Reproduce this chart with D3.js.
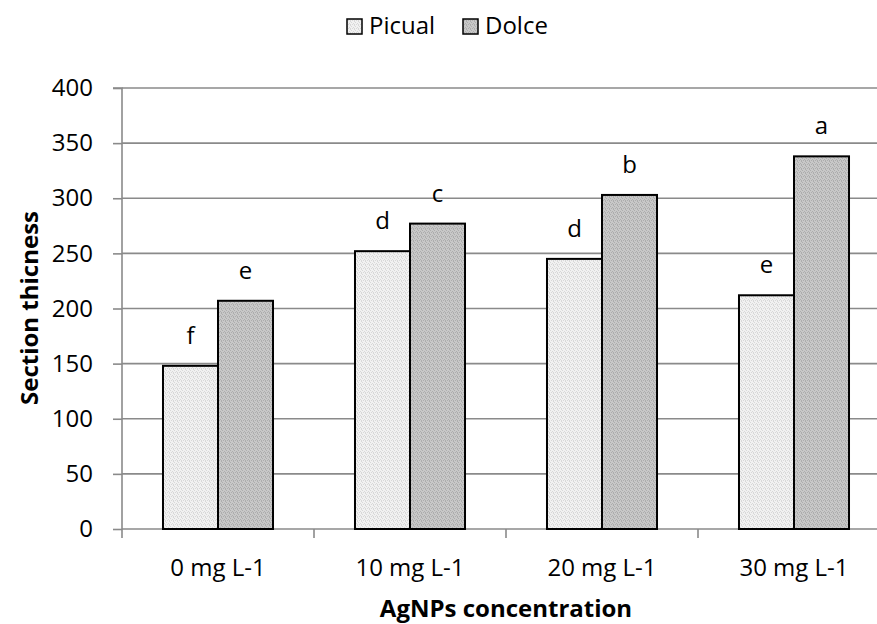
<!DOCTYPE html>
<html><head><meta charset="utf-8">
<script src="https://cdn.jsdelivr.net/npm/d3@7"></script>
<style>body{margin:0;background:#fff}svg{display:block}text{font-family:"Open Sans",sans-serif;fill:#000}</style>
</head><body><svg id="c" width="877" height="624"></svg>
<script>
const categories = ["0 mg L-1","10 mg L-1","20 mg L-1","30 mg L-1"];
const series = ["Picual","Dolce"];
const picual = [148, 252, 245, 212];
const dolce = [207, 277, 303, 338];
const picualLetters = ["f","d","d","e"];
const dolceLetters = ["e","c","b","a"];
const yTicks = [0,50,100,150,200,250,300,350,400];

const svg = d3.select("#c");
const defs = svg.append("defs");
const dotCells = [[0,0],[2,1],[1,3],[3,2],[2,0]];
function pat(id, bg, dot){
  const p = defs.append("pattern").attr("id",id).attr("width",4).attr("height",4).attr("patternUnits","userSpaceOnUse");
  p.append("rect").attr("width",4).attr("height",4).attr("fill",bg);
  dotCells.forEach(([a,b])=>p.append("rect").attr("x",a).attr("y",b).attr("width",1).attr("height",1).attr("fill",dot));
}
pat("pPic","#f1f1f1","#d8d8d8");
pat("pDol","#c8c8c8","#adadad");
const fills = {Picual:"url(#pPic)", Dolce:"url(#pDol)"};

const L=122, R=890, T=88, B=529;
const y = d3.scaleLinear().domain([0,400]).range([B,T]);
const p = 0.427;
const x = d3.scaleBand().domain(categories).range([L,R]).paddingInner(p).paddingOuter(p/2);
const xs = d3.scaleBand().domain(series).range([0,x.bandwidth()]);

// gridlines
svg.append("g").selectAll("line").data(yTicks.filter(d=>d>0)).join("line")
  .attr("x1",L).attr("x2",877).attr("y1",d=>y(d)).attr("y2",d=>y(d))
  .attr("stroke","#8a8a8a").attr("stroke-width",1.6);

// y axis
const ya = svg.append("g").attr("transform",`translate(${L},0)`)
  .call(d3.axisLeft(y).tickValues(yTicks).tickSize(9).tickPadding(20));
ya.select(".domain").attr("stroke","#8a8a8a").attr("stroke-width",1.6).attr("d",`M-9,${T}H0V${B}`);
ya.selectAll(".tick line").attr("stroke","#8a8a8a").attr("stroke-width",1.6);
ya.selectAll(".tick text").attr("font-size",24).attr("font-family","Open Sans").attr("fill","#000");

// x axis boundaries
const step = x.step();
const bounds = d3.range(categories.length+1).map(i=>L+i*step);
svg.append("g").selectAll("line").data(bounds).join("line")
  .attr("x1",d=>d).attr("x2",d=>d).attr("y1",B).attr("y2",B+9)
  .attr("stroke","#8a8a8a").attr("stroke-width",1.6);
svg.append("line").attr("x1",L).attr("x2",877).attr("y1",B).attr("y2",B)
  .attr("stroke","#8a8a8a").attr("stroke-width",1.6);
svg.append("g").selectAll("text").data(categories).join("text")
  .attr("x",d=>x(d)+x.bandwidth()/2).attr("y",576).attr("text-anchor","middle")
  .attr("font-size",24).text(d=>d);

// bars
const rows = categories.map((c,i)=>({c, vals:[{s:"Picual",v:picual[i],l:picualLetters[i]},{s:"Dolce",v:dolce[i],l:dolceLetters[i]}]}));
const g = svg.append("g").selectAll("g").data(rows).join("g").attr("transform",d=>`translate(${x(d.c)},0)`);
g.selectAll("rect").data(d=>d.vals).join("rect")
  .attr("x",d=>xs(d.s)).attr("width",xs.bandwidth()).attr("y",d=>y(d.v)).attr("height",d=>B-y(d.v))
  .attr("fill",d=>fills[d.s]).attr("stroke","#000").attr("stroke-width",2);
g.selectAll("text").data(d=>d.vals).join("text")
  .attr("x",d=>xs(d.s)+xs.bandwidth()/2).attr("y",d=>y(d.v)-22).attr("text-anchor","middle")
  .attr("font-size",24).text(d=>d.l);

// titles
svg.append("text").attr("x",506).attr("y",617).attr("text-anchor","middle")
  .attr("font-size",24).attr("font-weight","bold").text("AgNPs concentration");
svg.append("text").attr("transform",`translate(38,308) rotate(-90)`).attr("text-anchor","middle")
  .attr("font-size",24).attr("font-weight","bold").text("Section thicness");

// legend
const leg = svg.append("g");
const legX = [347, 463];
series.forEach((s,i)=>{
  leg.append("rect").attr("x",legX[i]).attr("y",19).attr("width",15).attr("height",15)
    .attr("fill",fills[s]).attr("stroke","#000").attr("stroke-width",1.5);
  leg.append("text").attr("x",legX[i]+22).attr("y",34).attr("font-size",24).text(s);
});
</script></body></html>
